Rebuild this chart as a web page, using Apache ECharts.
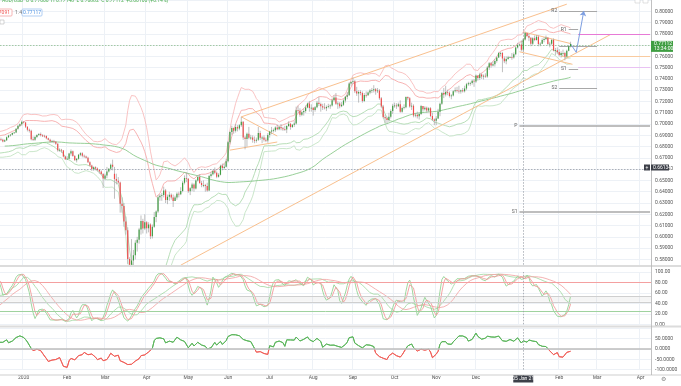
<!DOCTYPE html>
<html><head><meta charset="utf-8">
<script src="https://cdn.jsdelivr.net/npm/echarts@6/dist/echarts.min.js"></script>
<style>html,body{margin:0;padding:0;background:#fff;}#c{width:681px;height:386px;}</style>
</head><body><div id="c"></div>
<script>
// ---------- DATA (prices in units of 0.0001) : [open, close, low, high] ----------
const startDate = '2019-08-01';
const viewStart = '2019-12-16';
const categoryCount = 441;
const bars2019 = [
[6895,6835,6830,6900],[6835,6805,6790,6850],[6805,6765,6745,6815],[6765,6765,6735,6790],[6765,6780,6690,6790],
[6780,6810,6770,6820],[6810,6780,6770,6825],[6780,6775,6755,6795],[6775,6780,6750,6815],[6780,6760,6745,6790],
[6760,6790,6755,6800],[6790,6780,6765,6790],[6780,6775,6760,6790],[6775,6760,6750,6780],[6760,6760,6750,6775],
[6760,6765,6750,6775],[6765,6755,6690,6770],[6755,6765,6745,6785],[6765,6745,6740,6775],[6745,6740,6730,6760],
[6740,6745,6735,6760],[6745,6730,6715,6750],
[6730,6735,6710,6750],[6735,6735,6690,6740],[6735,6800,6730,6810],[6800,6815,6790,6840],[6815,6835,6800,6840],
[6835,6845,6830,6855],[6845,6855,6830,6870],[6855,6850,6840,6870],[6850,6870,6835,6880],[6870,6875,6860,6890],
[6875,6860,6845,6880],[6860,6855,6850,6870],[6855,6795,6790,6860],[6795,6790,6780,6810],[6790,6765,6760,6800],
[6765,6760,6750,6775],[6760,6780,6755,6790],[6780,6750,6745,6785],[6750,6765,6745,6770],[6765,6755,6745,6770],
[6755,6750,6745,6770],
[6750,6705,6670,6760],[6705,6715,6690,6725],[6715,6745,6705,6750],[6745,6750,6735,6760],[6750,6745,6735,6765],
[6745,6725,6715,6760],[6725,6740,6715,6745],[6740,6760,6730,6775],[6760,6785,6755,6810],[6785,6760,6755,6790],
[6760,6745,6740,6775],[6745,6765,6740,6770],[6765,6810,6755,6820],[6810,6855,6805,6860],[6855,6860,6840,6865],
[6860,6850,6840,6875],[6850,6835,6825,6860],[6835,6825,6815,6850],[6825,6815,6810,6845],[6815,6835,6810,6845],
[6835,6860,6825,6865],[6860,6885,6855,6890],[6885,6895,6870,6900],
[6895,6915,6885,6930],[6915,6905,6890,6930],[6905,6870,6860,6930],[6870,6875,6860,6890],[6875,6875,6865,6900],
[6875,6850,6845,6885],[6850,6855,6840,6865],[6855,6855,6840,6870],[6855,6835,6815,6860],[6835,6810,6790,6840],
[6810,6800,6790,6820],[6800,6820,6795,6830],[6820,6810,6800,6825],[6810,6790,6780,6815],[6790,6795,6775,6800],
[6795,6785,6775,6805],[6785,6790,6780,6800],[6790,6775,6765,6795],[6775,6770,6760,6785],[6770,6765,6755,6780],
[6765,6765,6755,6780],
[6765,6835,6760,6840],[6835,6850,6820,6860],[6850,6840,6830,6855],[6840,6850,6835,6860],[6850,6835,6825,6860],
[6835,6830,6820,6845],[6830,6845,6825,6850],[6845,6880,6840,6890],[6880,6890,6860,6900],[6890,6866,6850,6939],
[6866,6862,6850,6880],[6862,6846,6838,6870],[6846,6857,6840,6865],[6857,6884,6850,6890],[6884,6899,6876,6905],
[6899,6906,6890,6912],[6906,6920,6900,6925],[6920,6925,6915,6930],[6925,6958,6920,6962],[6958,6985,6950,6990],
[6985,6999,6975,7005],[6999,7020,6985,7032]
];
const bars2020a = [
[7020,7015,7005,7025],[7015,6976,6965,7020],[6976,6950,6935,6980],[6950,6940,6925,6960],[6940,6865,6855,6950],
[6865,6860,6850,6890],[6860,6885,6850,6895],[6885,6903,6875,6910],[6903,6912,6895,6920],[6912,6900,6890,6925],
[6900,6897,6885,6910],[6897,6895,6880,6905],[6895,6874,6865,6900],[6874,6862,6855,6880],[6862,6845,6835,6870],
[6845,6848,6835,6860],[6848,6843,6830,6860],[6843,6825,6815,6850],[6825,6767,6755,6830],[6767,6773,6755,6785],
[6773,6765,6745,6780],[6765,6713,6705,6770],[6713,6688,6682,6720],
[6688,6692,6682,6715],[6692,6738,6685,6745],[6738,6760,6720,6775],[6760,6718,6710,6765],[6718,6680,6675,6725],
[6680,6692,6660,6698],[6692,6728,6685,6735],[6728,6742,6715,6750],[6742,6720,6705,6750],[6720,6712,6700,6730],
[6712,6702,6695,6720],[6702,6662,6655,6710],[6662,6633,6625,6670],[6633,6602,6585,6640],[6602,6618,6585,6625],
[6618,6605,6590,6625],[6605,6592,6580,6615],[6592,6580,6560,6600],[6580,6558,6550,6590],[6558,6518,6433,6565],
[6518,6545,6500,6560],[6545,6580,6520,6620],[6580,6603,6570,6610],[6603,6640,6590,6650],[6640,6622,6590,6685],
[6560,6512,6338,6620],[6512,6498,6465,6560],[6498,6483,6470,6530],[6483,6293,6215,6490],[6293,6273,6215,6350],
[6273,6137,6090,6300],[6137,6058,6020,6180],[6058,5803,5760,6085],[5803,5753,5506,5820],[5753,5790,5730,5980],
[5790,5838,5660,5885],[5838,5947,5800,5970],[5947,5975,5870,6000],[5975,6066,5940,6080],[6066,6140,6020,6190],
[6140,6075,6030,6160],[6075,6130,6060,6200],
[6130,6077,6030,6140],[6077,6110,6040,6130],[6110,6005,5980,6120],[6005,6090,5985,6110],[6090,6175,6080,6220],
[6175,6225,6130,6235],[6225,6352,6210,6370],[6352,6365,6320,6380],[6365,6372,6320,6390],[6372,6412,6350,6445],
[6412,6327,6300,6425],[6327,6355,6290,6375],[6355,6373,6320,6400],[6373,6348,6330,6385],[6348,6317,6265,6375],
[6317,6350,6320,6365],[6350,6383,6330,6395],[6383,6378,6350,6400],[6378,6406,6370,6440],[6406,6480,6395,6495],
[6480,6522,6465,6545],[6522,6515,6485,6570],
[6515,6405,6390,6520],[6405,6432,6370,6440],[6432,6465,6405,6480],[6465,6428,6400,6475],[6428,6500,6420,6510],
[6500,6530,6490,6545],[6530,6478,6470,6555],[6478,6460,6440,6495],[6460,6460,6440,6500],[6460,6450,6400,6470],
[6450,6410,6400,6480],[6410,6540,6405,6550],[6540,6555,6525,6575],[6555,6585,6545,6595],[6585,6568,6555,6615],
[6568,6532,6520,6580],[6532,6550,6525,6565],[6550,6630,6545,6640],[6630,6610,6590,6650],[6610,6622,6595,6650],
[6622,6670,6615,6690],
[6670,6838,6660,6850],[6838,6930,6820,6935],[6930,6965,6905,6985],[6965,6940,6915,6970],[6940,6975,6925,7000],
[6975,6960,6935,6990],[6960,6990,6945,7000],[6990,7020,6975,7064],[7020,6880,6860,7025],[6880,6868,6776,6895],
[6868,6915,6800,6925],[6915,6878,6865,6975],[6878,6880,6860,6905],[6880,6860,6835,6900],[6860,6852,6830,6890],
[6852,6862,6835,6880],[6862,6920,6850,6975],[6920,6878,6860,6940],[6878,6880,6830,6895],[6880,6860,6845,6900],
[6860,6855,6840,6880],[6855,6902,6835,6920]
];
const bars2020b = [
[6902,6935,6880,6940],[6935,6942,6910,6975],[6942,6945,6925,6960],[6945,6970,6930,6980],[6970,6953,6945,6995],
[6953,6975,6945,6985],[6975,6962,6945,7000],[6962,6955,6940,6975],[6955,6952,6940,6985],[6952,6982,6920,6990],
[6982,7003,6975,7025],[7003,6975,6950,7010],[6975,6993,6965,7000],[6993,7005,6975,7025],[7005,7122,6995,7155],
[7122,7118,7100,7165],[7118,7082,7065,7140],[7082,7105,7070,7115],[7105,7115,7075,7135],[7115,7148,7100,7165],
[7148,7183,7140,7190],[7183,7142,7110,7205],[7142,7145,7110,7175],
[7145,7125,7075,7150],[7125,7150,7110,7160],[7150,7190,7140,7205],[7190,7178,7160,7240],[7178,7158,7110,7190],
[7158,7148,7125,7180],[7148,7140,7130,7185],[7140,7152,7115,7165],[7152,7158,7140,7180],[7158,7165,7135,7175],
[7165,7212,7155,7225],[7212,7235,7200,7255],[7235,7180,7170,7275],[7180,7182,7135,7200],[7182,7158,7140,7195],
[7158,7172,7150,7195],[7172,7210,7160,7220],[7210,7243,7190,7250],[7243,7255,7220,7285],[7255,7360,7250,7370],
[7360,7372,7340,7380],
[7372,7380,7355,7413],[7380,7292,7275,7390],[7292,7270,7250,7330],[7270,7285,7190,7300],[7285,7275,7255,7300],
[7275,7205,7190,7290],[7205,7258,7195,7275],[7258,7256,7235,7290],[7256,7280,7250,7290],[7280,7298,7265,7310],
[7298,7300,7275,7320],[7300,7308,7280,7345],[7308,7290,7260,7320],[7290,7298,7275,7320],[7298,7230,7215,7310],
[7230,7155,7140,7240],[7155,7062,7050,7170],[7062,7052,7010,7085],[7052,7037,7005,7065],[7037,7065,7020,7100],
[7065,7115,7050,7130],[7115,7163,7090,7180],
[7163,7165,7145,7190],[7165,7158,7135,7185],[7158,7175,7150,7190],[7175,7110,7100,7210],[7110,7143,7100,7155],
[7143,7150,7130,7175],[7150,7240,7140,7245],[7240,7228,7210,7245],[7228,7155,7145,7240],[7155,7162,7125,7190],
[7162,7075,7060,7175],[7075,7082,7060,7100],[7082,7070,7050,7110],[7070,7090,7040,7100],[7090,7160,7080,7170],
[7160,7132,7110,7160],[7132,7145,7120,7158],[7145,7120,7100,7155],[7120,7140,7105,7150],[7140,7072,7060,7150],
[7072,7040,7030,7100],[7040,7030,6990,7050],
[7030,7050,6990,7070],[7050,7110,7045,7135],[7110,7180,7070,7190],[7180,7275,7170,7285],[7275,7262,7230,7320],
[7262,7285,7245,7340],[7285,7278,7255,7305],[7278,7248,7235,7290],[7248,7253,7220,7265],[7253,7290,7245,7300],
[7290,7300,7280,7325],[7300,7295,7280,7330],[7295,7288,7270,7340],[7288,7300,7270,7305],[7300,7292,7280,7320],
[7292,7315,7280,7340],[7315,7352,7300,7365],[7352,7362,7340,7375],[7362,7365,7340,7375],[7365,7385,7350,7395],
[7385,7378,7330,7400],
[7378,7430,7365,7440],[7430,7408,7385,7430],[7408,7440,7390,7455],[7440,7422,7400,7450],[7422,7428,7395,7440],
[7428,7422,7410,7450],[7422,7502,7410,7515],[7502,7540,7480,7550],[7540,7520,7500,7550],[7520,7530,7510,7555],
[7530,7560,7510,7575],[7560,7590,7545,7600],[7590,7630,7585,7640],[7630,7630,7600,7640],[7630,7582,7460,7640],
[7582,7558,7540,7600],[7558,7578,7530,7600],[7578,7592,7570,7605],[7592,7595,7585,7600],[7595,7590,7570,7630],
[7590,7620,7580,7635],[7620,7678,7610,7690],[7678,7700,7670,7720]
];
const bars2021 = [
[7700,7705,7690,7715],[7705,7660,7645,7742],[7660,7750,7640,7760],[7750,7808,7740,7820],[7808,7780,7770,7810],
[7780,7765,7735,7800],[7765,7712,7690,7770],[7712,7760,7700,7770],[7760,7745,7735,7785],[7745,7775,7740,7790],
[7775,7710,7690,7785],[7710,7712,7690,7725],[7712,7745,7710,7760],[7745,7755,7725,7770],[7755,7765,7745,7785],
[7765,7710,7700,7770],[7710,7712,7680,7730],[7712,7745,7700,7755],[7745,7652,7645,7760],[7652,7655,7610,7675],
[7655,7640,7620,7680],
[7640,7612,7600,7665],[7612,7630,7590,7645],[7630,7630,7610,7660],[7630,7600,7565,7640],[7600,7650,7590,7660],
[7650,7690,7645,7700],[7690,7711,7680,7730]
];
// horizontal pivot levels: [label, price, from, to]
const pivotLevels = [
 ['R2',0.8003,'2021-02-01','2021-03-01'],
 ['R1',0.7837,'2021-02-08','2021-02-15'],
 ['',  0.7686,'2021-02-01','2021-03-01'],
 ['S1',0.7490,'2021-02-08','2021-02-15'],
 ['S2',0.7322,'2021-02-01','2021-03-01'],
 ['P', 0.6981,'2021-01-01','END'],
 ['S1',0.6222,'2021-01-01','END']
];
// coloured horizontal levels: [price, from, colour]
const colourLevels = [[0.7793,'2021-02-15','#e77ad6'],[0.7505,'2021-02-15','#e9c2f3'],[0.7598,'2021-02-02','#f9cba0']];
// trend lines: [date1, price1, date2, price2]
const trendLines = [
 ['2020-04-27',0.5749,'2021-03-10',0.7793],
 ['2020-06-10',0.7064,'2021-02-05',0.8063],
 ['2020-06-10',0.7064,'2020-07-07',0.6894],
 ['2020-06-02',0.6769,'2020-07-07',0.6841],
 ['2021-01-05',0.7817,'2021-02-09',0.7714],
 ['2021-01-01',0.7641,'2021-02-10',0.7530]
];
const projection = [['2021-02-09',0.7711],['2021-02-12',0.7636],['2021-02-18',0.8003]];
const crossDate = '2021-01-05', crossPrice = 0.6615;
const lastPriceText = '0.77112', countdownText = '13:34:00', crossPriceText = '0.66134', crossDateText = '05 Jan 21';

// ---------- BUILD ----------
function buildWeekdays(start, count){const out=[];const d=new Date(start+'T00:00:00Z');while(out.length<count){const w=d.getUTCDay();if(w!==0&&w!==6)out.push(d.toISOString().slice(0,10));d.setUTCDate(d.getUTCDate()+1);}return out;}
const categories = buildWeekdays(startDate, categoryCount);
const lastCat = categories[categories.length-1];
const viewStartIndex = categories.indexOf(viewStart);
const monthNames=['Jan','Feb','Mar','Apr','May','Jun','Jul','Aug','Sep','Oct','Nov','Dec'];
function isMonthStart(i){return i>0 && categories[i].slice(5,7)!==categories[i-1].slice(5,7);}
const bars = [].concat(bars2019,bars2020a,bars2020b,bars2021);
const N = bars.length;
const candleData = bars.map((r,i)=>[i,r[0]/1e4,r[1]/1e4,r[2]/1e4,r[3]/1e4]);
const closes = bars.map(r=>r[1]/1e4), lows = bars.map(r=>r[2]/1e4), highs = bars.map(r=>r[3]/1e4);
const lastClose = closes[N-1];
function smaOf(arr,n){return arr.map((_,i)=>{if(i<n-1)return null;let s=0;for(let j=i-n+1;j<=i;j++){if(arr[j]==null)return null;s+=arr[j];}return s/n;});}
function bollinger(n,k){const up=[],lo=[];for(let i=0;i<N;i++){if(i<n-1){up.push(null);lo.push(null);continue;}let m=0;for(let j=i-n+1;j<=i;j++)m+=closes[j];m/=n;let v=0;for(let j=i-n+1;j<=i;j++)v+=(closes[j]-m)**2;const sd=Math.sqrt(v/n);up.push(m+k*sd);lo.push(m-k*sd);}return [up,lo];}
function stochRaw(n){return closes.map((c,i)=>{if(i<n-1)return null;let hh=-1e9,ll=1e9;for(let j=i-n+1;j<=i;j++){hh=Math.max(hh,highs[j]);ll=Math.min(ll,lows[j]);}return hh===ll?50:(c-ll)/(hh-ll)*100;});}
function cmo(n){return closes.map((c,i)=>{if(i<n)return null;let u=0,d=0;for(let j=i-n+1;j<=i;j++){const df=closes[j]-closes[j-1];if(df>0)u+=df;else d-=df;}return (u+d)===0?0:(u-d)/(u+d)*100;});}
const [bb2u,bb2l]=bollinger(20,2), [bb3u,bb3l]=bollinger(20,3);
const sma100 = smaOf(closes,100);
const fastK = smaOf(stochRaw(14),3), fastD = smaOf(fastK,3);
const slowK = smaOf(stochRaw(30),10), slowD = smaOf(slowK,10);
const cmoLine = cmo(14);
const r = v=>v==null?null:+v.toFixed(5);

const font='Roboto';
const upColor='#3f9e42', downColor='#f04b4b', wickColor='#a3a3a3', trendColor='#f9c08e';
function xAxisFor(g){return {type:'category',gridIndex:g,data:categories,min:viewStartIndex,max:categories.length-1,boundaryGap:true,
  axisLine:{show:false},axisTick:{show:false},
  axisLabel: g===2?{show:true,interval:(i)=>isMonthStart(i),fontSize:5,color:'#555',fontFamily:font,margin:6,
     formatter:(v)=>{const m=+v.slice(5,7);return m===1?v.slice(0,4):monthNames[m-1];}}:{show:false},
  splitLine:{show:true,interval:(i)=>isMonthStart(i),lineStyle:{color:'#edf1f6',width:1}}};}
const dotted={type:[1.5,1.5],color:'#9aa0a8',width:0.8};
const noLabel={show:false};

function renderCandle(params, api){
  const i=api.value(0), o=api.value(1), c=api.value(2), l=api.value(3), h=api.value(4);
  const pO=api.coord([i,o]), pC=api.coord([i,c]), pL=api.coord([i,l]), pH=api.coord([i,h]);
  const w=api.size([1,0])[0]*0.62;
  const col=c>=o?upColor:downColor;
  const top=Math.min(pO[1],pC[1]), hgt=Math.max(0.8,Math.abs(pO[1]-pC[1]));
  return {type:'group',children:[
    {type:'line',shape:{x1:pO[0],y1:pH[1],x2:pO[0],y2:pL[1]},style:{stroke:wickColor,lineWidth:0.7}},
    {type:'rect',shape:{x:pO[0]-w/2,y:top,width:w,height:hgt},style:{fill:col}}]};
}

const pivotMarks = pivotLevels.map(p=>[
  {coord:[p[2],p[1]],label:{show:!!p[0],position:'start',formatter:p[0],fontSize:5,color:'#666',distance:2,fontFamily:font},lineStyle:{color:'#a8a8a8',width:p[3]==='END'?1.6:1,type:'solid'}},
  {coord:[p[3]==='END'?lastCat:p[3],p[1]]}]);
const colourMarks = colourLevels.map(c=>[{coord:[c[1],c[0]],lineStyle:{color:c[2],width:1.2,type:'solid'}},{coord:[lastCat,c[0]]}]);
const trendMarks = trendLines.map(t=>[{coord:[t[0],t[1]],lineStyle:{color:trendColor,width:1,type:'solid'}},{coord:[t[2],t[3]]}]);
const projMarks = [[{coord:projection[0],lineStyle:{color:'#7d9ee0',width:1,type:'solid'}},{coord:projection[1]}],
                   [{coord:projection[1],lineStyle:{color:'#7d9ee0',width:1,type:'solid'},symbol:'none'},{coord:projection[2],symbol:'arrow',symbolSize:5}]];

const option={
 animation:false, backgroundColor:'#fff',
 grid:[{left:0,top:-4.2,width:651,height:274.9},{left:0,top:272,width:651,height:52.3},{left:0,top:328.4,width:651,height:41.2}],
 xAxis:[xAxisFor(0),xAxisFor(1),xAxisFor(2)],
 yAxis:[
  {type:'value',gridIndex:0,position:'right',min:0.57,max:0.81,interval:0.01,axisLine:{show:false},axisTick:{show:false},
   splitLine:{lineStyle:{color:'#edf1f6'}},axisLabel:{fontSize:5,color:'#555',margin:4,fontFamily:font,
   formatter:v=>{const k=Math.round(v*100);return (k<58||k>80)?'':(k/100).toFixed(5);}}},
  {type:'value',gridIndex:1,position:'right',min:0,max:100,interval:20,axisLine:{show:false},axisTick:{show:false},
   splitLine:{lineStyle:{color:'#edf1f6'}},axisLabel:{fontSize:5,color:'#555',margin:4,fontFamily:font,formatter:v=>v.toFixed(2)}},
  {type:'value',gridIndex:2,position:'right',min:-100,max:100,interval:50,axisLine:{show:false},axisTick:{show:false},
   splitLine:{lineStyle:{color:'#edf1f6'}},axisLabel:{fontSize:5,color:'#555',margin:4,fontFamily:font,formatter:v=>v>=100?'':v.toFixed(4)}}
 ],
 series:[
  {type:'line',xAxisIndex:0,yAxisIndex:0,data:bb3u.map(r),showSymbol:false,silent:true,lineStyle:{color:'#f8bcbc',width:0.9},z:2},
  {type:'line',xAxisIndex:0,yAxisIndex:0,data:bb2u.map(r),showSymbol:false,silent:true,lineStyle:{color:'#f6aaaa',width:0.9},z:2},
  {type:'line',xAxisIndex:0,yAxisIndex:0,data:bb2l.map(r),showSymbol:false,silent:true,lineStyle:{color:'#b0dab0',width:0.9},z:2},
  {type:'line',xAxisIndex:0,yAxisIndex:0,data:bb3l.map(r),showSymbol:false,silent:true,lineStyle:{color:'#c4e3c4',width:0.9},z:2},
  {type:'line',xAxisIndex:0,yAxisIndex:0,data:sma100.map(r),showSymbol:false,silent:true,lineStyle:{color:'#8cc98c',width:0.9},z:2},
  {type:'custom',xAxisIndex:0,yAxisIndex:0,data:candleData,renderItem:renderCandle,clip:true,silent:true,
   encode:{x:0,y:[1,2,3,4]},z:5},
  {type:'line',xAxisIndex:0,yAxisIndex:0,data:[],showSymbol:false,silent:true,z:6,
   markLine:{silent:true,symbol:['none','none'],label:noLabel,animation:false,
    data:[].concat(trendMarks,pivotMarks,colourMarks,projMarks,
      [{yAxis:crossPrice,lineStyle:dotted},{yAxis:lastClose,lineStyle:{type:[1.5,1.5],color:'#8fbf8f',width:0.8}},{xAxis:crossDate,lineStyle:dotted}])}},
  {type:'line',xAxisIndex:1,yAxisIndex:1,data:slowK.map(r),showSymbol:false,silent:true,lineStyle:{color:'#a9dba9',width:0.9},z:2},
  {type:'line',xAxisIndex:1,yAxisIndex:1,data:slowD.map(r),showSymbol:false,silent:true,lineStyle:{color:'#f3a9a9',width:0.9},z:2},
  {type:'line',xAxisIndex:1,yAxisIndex:1,data:fastK.map(r),showSymbol:false,silent:true,lineStyle:{color:'#94d294',width:0.9},z:3},
  {type:'line',xAxisIndex:1,yAxisIndex:1,data:fastD.map(r),showSymbol:false,silent:true,lineStyle:{color:'#f29b9b',width:0.9},z:3,
   markLine:{silent:true,symbol:['none','none'],label:noLabel,animation:false,data:[
     {yAxis:80,lineStyle:{color:'#f4a0a0',width:1,type:'solid'}},{yAxis:25,lineStyle:{color:'#9fd29f',width:1,type:'solid'}},
     {yAxis:54,lineStyle:{color:'#cfcfcf',width:1.2,type:'solid'}},{yAxis:43,lineStyle:{color:'#cfcfcf',width:1.2,type:'solid'}},
     {xAxis:crossDate,lineStyle:dotted}]},
   markArea:{silent:true,itemStyle:{color:'rgba(200,200,200,0.18)'},data:[[{yAxis:43},{yAxis:54}]]}},
  {type:'line',xAxisIndex:2,yAxisIndex:2,data:cmoLine.map(v=>v==null?null:+v.toFixed(3)),showSymbol:false,silent:true,lineStyle:{width:1,color:'#5cb65c'},z:3,
   markLine:{silent:true,symbol:['none','none'],label:noLabel,animation:false,data:[
     {yAxis:0,lineStyle:{color:'#bdbdbd',width:1.5,type:'solid'}},{xAxis:crossDate,lineStyle:dotted}]}}
 ]
};
const chart=echarts.init(document.getElementById('c'),null,{renderer:'canvas'});
chart.setOption(option);

// overlays positioned through the chart's own scales
const xCross = chart.convertToPixel({xAxisIndex:2},crossDate);
const yLast = chart.convertToPixel({yAxisIndex:0},lastClose);
const yCross = chart.convertToPixel({yAxisIndex:0},crossPrice);
const yZero = chart.convertToPixel({yAxisIndex:2},0);
const T=(x,y,text,fill,size,align)=>({type:'text',z:120,style:{x:x,y:y,text:text,fill:fill,fontSize:size||5,fontFamily:font,align:align||'left',verticalAlign:'middle'}});
chart.setOption({
 series:[{},{},{},{},{},{},{},{},{},{},{},{lineStyle:{color:new echarts.graphic.LinearGradient(0,yZero-0.01,0,yZero+0.01,[{offset:0,color:'#5cb65c'},{offset:1,color:'#f0605a'}],true)}}],
 graphic:[
 {type:'rect',z:100,shape:{x:0,y:265.5,width:651,height:6},style:{fill:'#fff'}},
 {type:'rect',z:101,shape:{x:0,y:265,width:681,height:2},style:{fill:'#dcdcdc'}},
 {type:'rect',z:101,shape:{x:0,y:325.5,width:681,height:2},style:{fill:'#dcdcdc'}},
 {type:'rect',z:101,shape:{x:0,y:374.5,width:681,height:1},style:{fill:'#cfcfcf'}},
 {type:'rect',z:101,shape:{x:651,y:0,width:0.8,height:375},style:{fill:'#b5b5b5'}},
 {type:'rect',z:110,shape:{x:651,y:yLast-3,width:22,height:11},style:{fill:'#3f9e42'}},
 T(654,yLast,lastPriceText,'#fff',5),T(654,yLast+5,countdownText,'#fff',5),
 {type:'rect',z:110,shape:{x:644,y:yCross-3,width:6,height:6},style:{fill:'#3d4049'}},
 T(647,yCross,'+','#fff',5,'center'),
 {type:'rect',z:110,shape:{x:651,y:yCross-3,width:18,height:6},style:{fill:'#3d4049'}},
 T(653,yCross,crossPriceText,'#fff',5),
 {type:'rect',z:110,shape:{x:xCross-10,y:375.5,width:20,height:7},style:{fill:'#3d4049'}},
 T(xCross,379,crossDateText,'#fff',5,'center'),
 T(2,1,'AUD/USD  O 0.77006  H 0.77148  L 0.76882  C 0.77112  +0.00106 (+0.14%)','#4caf50',5),
 {type:'rect',z:110,shape:{x:-6,y:9,width:18,height:7,r:1},style:{fill:'#fff',stroke:'#f4a3a3',lineWidth:0.8}},
 T(3,12.5,'77091','#ef5350',5,'center'),
 T(15,12.5,'1.4','#777',5),
 {type:'rect',z:110,shape:{x:22,y:9,width:20,height:7,r:1},style:{fill:'#fff',stroke:'#9fc3f0',lineWidth:0.8}},
 T(32,12.5,'0.77117','#4a8fe0',5,'center'),
 {type:'rect',z:110,shape:{x:0,y:20,width:4,height:4},style:{fill:'#fff',stroke:'#bbb',lineWidth:0.6}},
 {type:'rect',z:110,shape:{x:635,y:-2,width:5,height:5},style:{fill:'#fff',stroke:'#ccc',lineWidth:0.6}},
 {type:'rect',z:110,shape:{x:643,y:-2,width:5,height:5},style:{fill:'#fff',stroke:'#ccc',lineWidth:0.6}},
 T(663,379,'⚙','#888',6,'center')
]});
</script></body></html>
